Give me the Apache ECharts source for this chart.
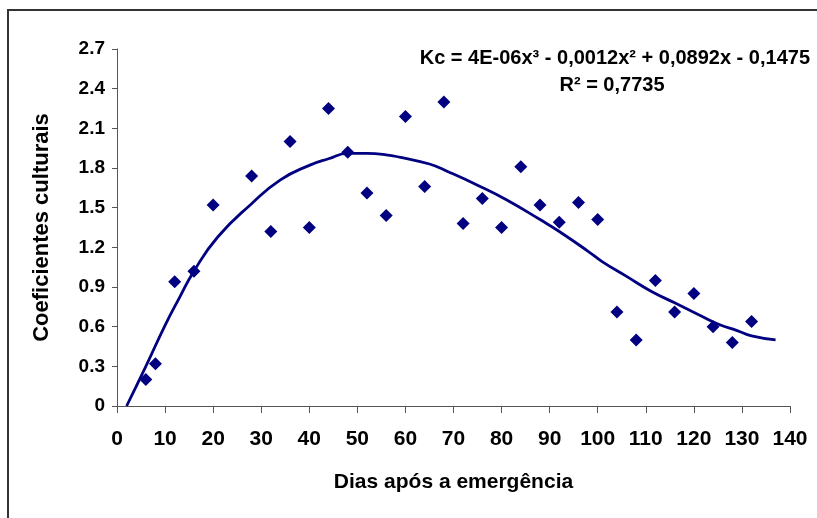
<!DOCTYPE html>
<html>
<head>
<meta charset="utf-8">
<script src="https://cdn.jsdelivr.net/npm/echarts@6/dist/echarts.min.js"></script>
<style>
  html, body { margin: 0; padding: 0; background: #fff; }
  #chart { width: 817px; height: 518px; }
</style>
</head>
<body>
<div id="chart"></div>
<script>
// Observed Kc values (days after emergence, coefficient)
const obsDays = [6, 8, 12, 16, 20, 28, 32, 36, 40, 44, 48, 52, 56, 60, 64, 68, 72, 76, 80, 84, 88, 92, 96, 100, 104, 108, 112, 116, 120, 124, 128, 132]
const obsKc = [0.20, 0.32, 0.94, 1.02, 1.52, 1.74, 1.32, 2.00, 1.35, 2.25, 1.92, 1.61, 1.44, 2.19, 1.66, 2.30, 1.38, 1.57, 1.35, 1.81, 1.52, 1.39, 1.54, 1.41, 0.71, 0.50, 0.95, 0.71, 0.85, 0.60, 0.48, 0.64]

// Trend line
const trendDays = [2, 6, 10, 13, 16, 21, 28, 34, 40, 44, 48, 52, 56, 59, 65, 69, 75, 81, 88, 92, 98, 101, 106, 111, 116, 121, 125, 129, 132, 137]
const trendKc = [0, 0.30, 0.61, 0.82, 1.02, 1.28, 1.53, 1.71, 1.82, 1.87, 1.91, 1.91, 1.90, 1.88, 1.83, 1.77, 1.67, 1.56, 1.41, 1.32, 1.17, 1.09, 0.98, 0.87, 0.78, 0.69, 0.62, 0.57, 0.53, 0.50]

const navy = '#000080'
const font = '"Liberation Sans", Arial, sans-serif'

const chart = echarts.init(document.getElementById('chart'))
chart.setOption({
  animation: false,
  backgroundColor: '#fff',
  grid: { left: 117, right: 27, top: 49, bottom: 112 },
  graphic: [
    {
      type: 'rect',
      shape: { x: 8, y: 10, width: 830, height: 530 },
      style: { fill: 'none', stroke: '#333', lineWidth: 2 },
      silent: true
    },
    {
      type: 'text',
      x: 810,
      y: 58,
      style: {
        text: 'Kc = 4E-06x³ - 0,0012x² + 0,0892x - 0,1475',
        font: 'bold 20px ' + font,
        fill: '#000',
        align: 'right',
        verticalAlign: 'middle'
      }
    },
    {
      type: 'text',
      x: 612,
      y: 85,
      style: {
        text: 'R² = 0,7735',
        font: 'bold 20px ' + font,
        fill: '#000',
        align: 'center',
        verticalAlign: 'middle'
      }
    }
  ],
  xAxis: {
    type: 'value',
    min: 0,
    max: 140,
    interval: 10,
    name: 'Dias após a emergência',
    nameLocation: 'middle',
    nameGap: 66,
    nameTextStyle: { fontFamily: font, fontSize: 21, fontWeight: 'bold', color: '#000' },
    axisLine: { show: true, lineStyle: { color: '#555', width: 1 } },
    axisTick: { show: true, inside: false, length: 7, lineStyle: { color: '#555' } },
    axisLabel: { fontFamily: font, fontSize: 21, fontWeight: 'bold', color: '#000', margin: 23 },
    splitLine: { show: false }
  },
  yAxis: {
    type: 'value',
    min: 0,
    max: 2.7,
    interval: 0.3,
    name: 'Coeficientes culturais',
    nameLocation: 'middle',
    nameGap: 64,
    nameTextStyle: { fontFamily: font, fontSize: 22, fontWeight: 'bold', color: '#000' },
    axisLine: { show: true, lineStyle: { color: '#555', width: 1 } },
    axisTick: { show: true, length: 5, lineStyle: { color: '#555' } },
    axisLabel: {
      fontFamily: font,
      fontSize: 19,
      fontWeight: 'bold',
      color: '#000',
      margin: 12,
      formatter: v => (Math.abs(v) < 1e-9 ? '0' : v.toFixed(1))
    },
    splitLine: { show: false }
  },
  series: [
    {
      name: 'Tendência',
      type: 'line',
      smooth: true,
      showSymbol: false,
      data: trendDays.map((d, i) => [d, trendKc[i]]),
      lineStyle: { color: navy, width: 2.8 },
      z: 2
    },
    {
      name: 'Kc',
      type: 'scatter',
      symbol: 'diamond',
      symbolSize: [13, 13],
      data: obsDays.map((d, i) => [d, obsKc[i]]),
      itemStyle: { color: navy, opacity: 1 },
      z: 3
    }
  ]
})
</script>
</body>
</html>
